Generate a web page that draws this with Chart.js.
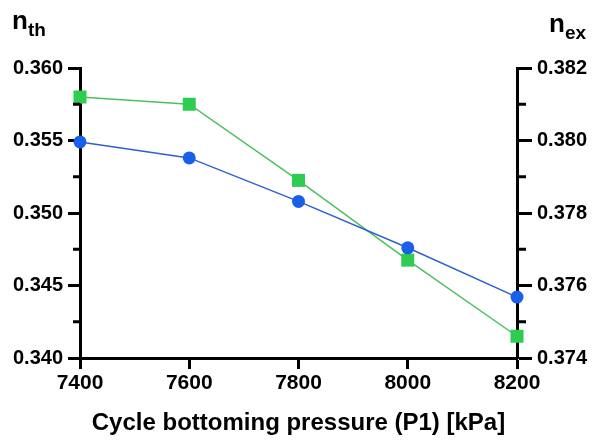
<!DOCTYPE html>
<html>
<head>
<meta charset="utf-8">
<script src="https://cdn.jsdelivr.net/npm/chart.js@4"></script>
<style>
  html, body { margin: 0; padding: 0; background: #fff; }
  #wrap { position: relative; width: 597px; height: 441px; }
  .ylab { position: absolute; font-family: "Liberation Sans", Arial, sans-serif; font-weight: bold; color: #000; font-size: 26px; line-height: 1; }
  .ylab sub { font-size: 19px; vertical-align: -7px; }
</style>
</head>
<body>
<div id="wrap">
  <canvas id="chart" width="597" height="441"></canvas>
  <div class="ylab" style="left:12px; top:7px;">n<sub>th</sub></div>
  <div class="ylab" style="left:549px; top:10px;">n<sub>ex</sub></div>
</div>
<script>
// --- data ---
const pressures = [7400, 7600, 7800, 8000, 8200];
const nThermal = [0.3549, 0.3538, 0.3508, 0.3476, 0.3442];
const nExergy = [0.3812, 0.3810, 0.3789, 0.3767, 0.3746];
const leftMinorTicks = [0.3425, 0.3475, 0.3525, 0.3575];
const rightMinorTicks = [0.375, 0.377, 0.379, 0.381];

const FONT = "'Liberation Sans', Arial, sans-serif";

// short minor ticks drawn outside each y axis
const minorTicks = {
  id: "minorTicks",
  afterDraw(chart) {
    const ctx = chart.ctx;
    const left = chart.scales.y;
    const right = chart.scales.y1;
    ctx.save();
    ctx.strokeStyle = "#000";
    ctx.lineWidth = 3;
    leftMinorTicks.forEach(v => {
      const y = left.getPixelForValue(v);
      ctx.beginPath();
      ctx.moveTo(chart.chartArea.left - 7, y);
      ctx.lineTo(chart.chartArea.left, y);
      ctx.stroke();
    });
    rightMinorTicks.forEach(v => {
      const y = right.getPixelForValue(v);
      ctx.beginPath();
      ctx.moveTo(chart.chartArea.right, y);
      ctx.lineTo(chart.chartArea.right + 9, y);
      ctx.stroke();
    });
    ctx.restore();
  }
};

const axisGrid = (len) => ({
  display: true,
  drawOnChartArea: false,
  drawTicks: true,
  tickLength: len,
  tickWidth: 3,
  tickColor: "#000"
});

new Chart(document.getElementById("chart"), {
  type: "line",
  data: {
    datasets: [
      {
        label: "n_th",
        data: pressures.map((p, i) => ({ x: p, y: nThermal[i] })),
        yAxisID: "y",
        borderColor: "#2f5fcf",
        borderWidth: 1.5,
        pointStyle: "circle",
        pointRadius: 6.5,
        pointBackgroundColor: "#1a5fe8",
        pointBorderColor: "#1a5fe8",
        pointBorderWidth: 0,
        clip: false
      },
      {
        label: "n_ex",
        data: pressures.map((p, i) => ({ x: p, y: nExergy[i] })),
        yAxisID: "y1",
        borderColor: "#4cc05e",
        borderWidth: 1.5,
        pointStyle: "rect",
        pointRadius: 9.2,
        pointBackgroundColor: "#2ecc50",
        pointBorderColor: "#2ecc50",
        pointBorderWidth: 0,
        clip: false
      }
    ]
  },
  options: {
    responsive: false,
    animation: false,
    layout: { padding: { top: 68, left: 0, right: 0, bottom: 0 } },
    plugins: { legend: { display: false }, tooltip: { enabled: false } },
    scales: {
      x: {
        type: "linear",
        min: 7400,
        max: 8200,
        afterBuildTicks: (s) => { s.ticks = pressures.map(v => ({ value: v })); },
        ticks: {
          color: "#000",
          font: { family: FONT, size: 21, weight: "bold" },
          padding: 2,
          callback: (v) => String(v)
        },
        grid: axisGrid(11),
        border: { display: true, color: "#000", width: 3 },
        title: {
          display: true,
          text: "Cycle bottoming pressure (P1) [kPa]",
          color: "#000",
          font: { family: FONT, size: 24, weight: "bold" },
          padding: { top: 0, bottom: 3 }
        },
        afterFit: (s) => { s.height = 83; }
      },
      y: {
        position: "left",
        min: 0.34,
        max: 0.36,
        ticks: {
          stepSize: 0.005,
          color: "#000",
          font: { family: FONT, size: 20, weight: "bold" },
          padding: 5,
          callback: (v) => Number(v).toFixed(3)
        },
        grid: axisGrid(12),
        border: { display: true, color: "#000", width: 3 },
        afterFit: (s) => { s.width = 80; }
      },
      y1: {
        position: "right",
        min: 0.374,
        max: 0.382,
        ticks: {
          stepSize: 0.002,
          color: "#000",
          font: { family: FONT, size: 20, weight: "bold" },
          padding: 5,
          callback: (v) => Number(v).toFixed(3)
        },
        grid: axisGrid(15),
        border: { display: true, color: "#000", width: 3 },
        afterFit: (s) => { s.width = 80; }
      }
    }
  },
  plugins: [minorTicks]
});
</script>
</body>
</html>
